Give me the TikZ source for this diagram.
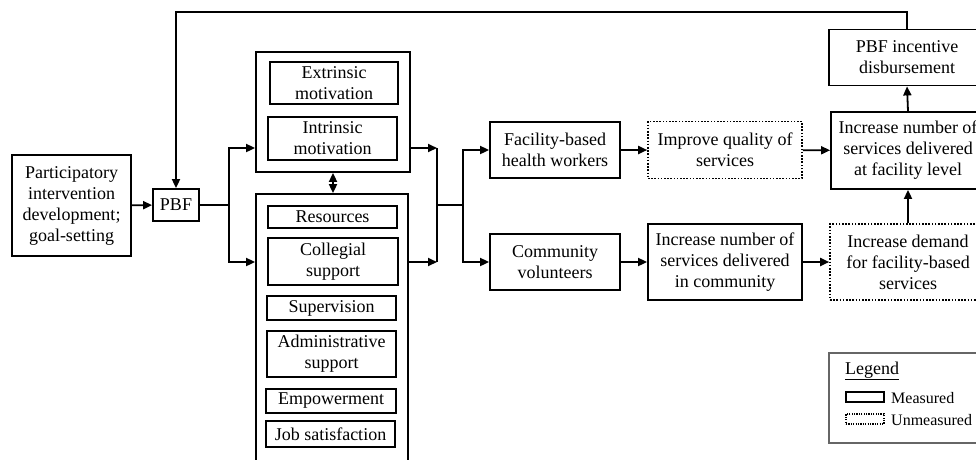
\documentclass[tikz,border=0pt]{standalone}
\usepackage{fontspec}
\setmainfont{Liberation Serif}
\usetikzlibrary{arrows.meta,calc}
\tikzset{
  box/.style={draw, line width=1.8pt, rectangle, inner sep=0pt, align=center,
    font=\fontsize{18}{21}\selectfont},
  dbox/.style={box, line width=1.6pt, dash pattern=on 1.6pt off 1.6pt},
  arr/.style={line width=1.8pt, -{Triangle[length=9pt,width=8pt]}},
  ln/.style={line width=1.8pt},
}
\begin{document}
\begin{tikzpicture}[x=1pt,y=-1pt]
\clip (0,0) rectangle (976,459);
% left
\node[box, minimum width=119pt, minimum height=101pt] (part) at (71.5,205.5) {Participatory\\intervention\\development;\\goal-setting};
\node[box, minimum width=46pt, minimum height=32pt] (pbf) at (176,205) {PBF};
% groups
\node[box, minimum width=154pt, minimum height=120pt] (top) at (333,112) {};
\node[box, minimum width=128pt, minimum height=42pt] (ext) at (334,83) {Extrinsic\\motivation};
\node[box, minimum width=129pt, minimum height=43pt] (intr) at (332.5,138.5) {Intrinsic\\motivation};
\node[box, minimum width=152pt, minimum height=280pt] (bot) at (332,334) {};
\node[box, minimum width=129pt, minimum height=22pt] (res) at (332.5,217) {Resources};
\node[box, minimum width=130pt, minimum height=47pt] (col) at (333,261.5) {Collegial\\support};
\node[box, minimum width=129pt, minimum height=24pt] (sup) at (331.5,308) {Supervision};
\node[box, minimum width=129pt, minimum height=46pt] (adm) at (331.5,354) {Administrative\\support};
\node[box, minimum width=130pt, minimum height=24pt] (emp) at (331,401) {Empowerment};
\node[box, minimum width=129pt, minimum height=26pt] (job) at (330.5,434) {Job satisfaction};
% middle
\node[box, minimum width=130pt, minimum height=56pt] (fac) at (555,150) {Facility-based\\health workers};
\node[box, minimum width=130pt, minimum height=56pt] (com) at (555,262) {Community\\volunteers};
\node[dbox, minimum width=154pt, minimum height=57pt] (imp) at (725,150) {Improve quality of\\services};
\node[box, minimum width=154pt, minimum height=76pt] (inc) at (725,262) {Increase number of\\services delivered\\in community};
% right
\node[box, minimum width=154pt, minimum height=77pt] (lev) at (908,150.5) {Increase number of\\services delivered\\at facility level};
\node[box, minimum width=156pt, minimum height=56pt] (ince) at (907,57.5) {PBF incentive\\disbursement};
\node[dbox, minimum width=156pt, minimum height=76pt] (dem) at (908,262) {Increase demand\\for facility-based\\services};
% legend
\node[draw=black!60, line width=1.2pt, rectangle, minimum width=156pt, minimum height=90pt, inner sep=0pt] (leg) at (907,398) {};
\node[anchor=base west, inner sep=0pt, font=\fontsize{18}{21}\selectfont] (legt) at (845,374) {\underline{Legend}};
\node[draw, line width=1.4pt, minimum width=38pt, minimum height=10pt, inner sep=0pt] (lm) at (865,397) {};
\node[draw, line width=1.2pt, dash pattern=on 1.2pt off 1.2pt, minimum width=38pt, minimum height=10pt, inner sep=0pt] (lu) at (865,419) {};
\node[anchor=west, inner sep=0pt, font=\fontsize{16}{19}\selectfont] (lmt) at (891,398) {Measured};
\node[anchor=west, inner sep=0pt, font=\fontsize{16}{19}\selectfont] (lut) at (891,420) {Unmeasured};
% connectors
\coordinate (b1) at (229,205);
\coordinate (j1) at (437,148);
\coordinate (j2) at (437,262);
\coordinate (j3) at (437,205);
\coordinate (b2) at (463,205);
\coordinate (fb) at (176,12);
\draw[arr] (part) -- (pbf);
\draw[ln] (pbf.east) -- (b1);
\draw[arr] (b1) |- ([yshift=-36pt]top.west);
\draw[arr] (b1) |- ([yshift=72pt]bot.west);
\draw[arr] ([yshift=-36pt]top.east) -- (j1);
\draw[arr] ([yshift=72pt]bot.east) -- (j2);
\draw[ln] (j1) -- (j2);
\draw[ln] (j3) -- (b2);
\draw[arr] (b2) |- (fac.west);
\draw[arr] (b2) |- (com.west);
\draw[arr] (fac) -- (imp);
\draw[arr] (com) -- (inc);
\draw[arr] (imp) -- (lev);
\draw[arr] (inc) -- (dem);
\draw[arr] (dem.north) -- (lev.south);
\draw[arr] (lev.north) -- (ince.south);
\draw[arr] (ince.north) |- (fb) -- (pbf.north);
\draw[arr, {Triangle[length=9pt,width=8pt]}-{Triangle[length=9pt,width=8pt]}] (top.south) -- (top.south |- bot.north);
\end{tikzpicture}
\end{document}
